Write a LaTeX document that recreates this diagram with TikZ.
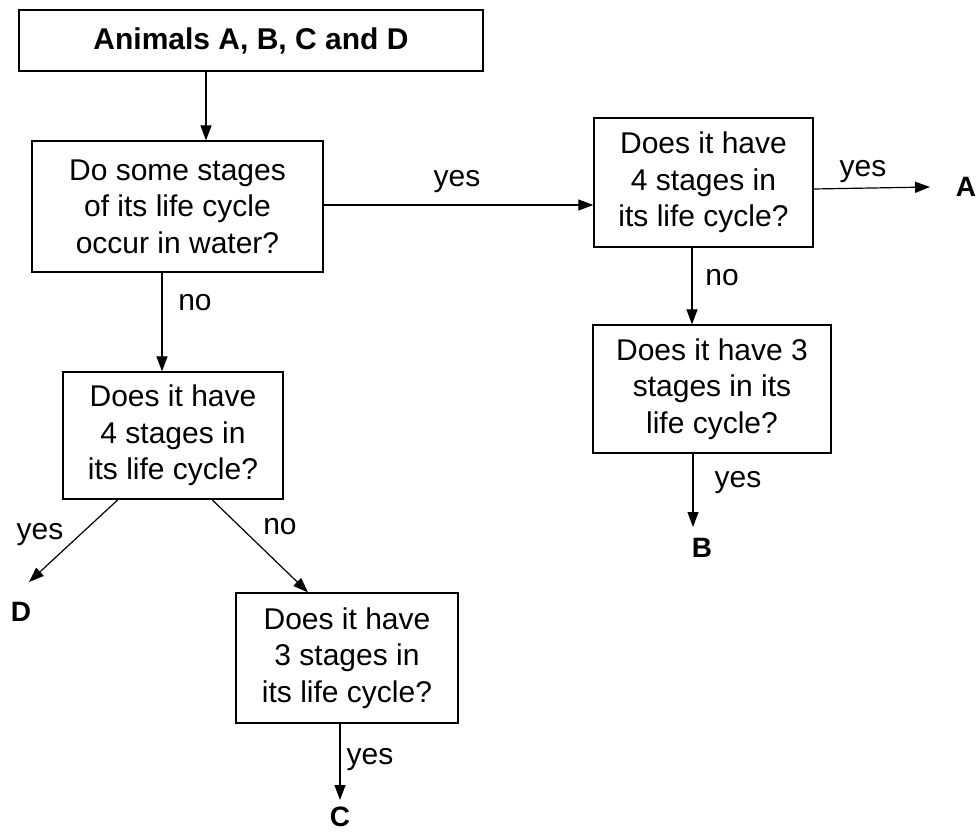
\documentclass[tikz,border=0pt]{standalone}
\usepackage{fontspec}
\setmainfont{Liberation Sans}
\usetikzlibrary{arrows.meta}
\begin{document}
\begin{tikzpicture}[x=1pt,y=-1pt,
  box/.style={draw, line width=1.3pt, inner sep=0pt, align=center, font=\fontsize{30}{36.5}\selectfont},
  lbl/.style={inner sep=0pt, font=\fontsize{30}{36}\selectfont},
  term/.style={inner sep=0pt, font=\bfseries\fontsize{28}{30}\selectfont},
  arr/.style={line width=1.2pt, -{Triangle[length=15pt,width=11pt]}}]
\useasboundingbox (0,0) rectangle (980,834);
% boxes
\node[box, minimum width=464pt, minimum height=61pt, font=\bfseries\fontsize{30}{36}\selectfont] (top) at (251,40.5) {Animals A, B, C and D};
\node[box, minimum width=291pt, minimum height=131pt] (q1) at (177.5,206.5) {Do some stages\\of its life cycle\\occur in water?};
\node[box, minimum width=219pt, minimum height=129pt] (qA) at (703.5,182.5) {Does it have\\4 stages in\\its life cycle?};
\node[box, minimum width=238pt, minimum height=128pt] (qB) at (712,389) {Does it have 3\\stages in its\\life cycle?};
\node[box, minimum width=220pt, minimum height=127pt] (qD) at (173,435.5) {Does it have\\4 stages in\\its life cycle?};
\node[box, minimum width=222pt, minimum height=130pt] (qC) at (347,658) {Does it have\\3 stages in\\its life cycle?};
% end letters
\node[term] (A) at (966,187) {A};
\node[term] (B) at (702,548) {B};
\node[term] (C) at (340,817) {C};
\node[term] (D) at (21,612) {D};
\coordinate (dtip) at (29,582);
% connectors
\draw[arr] (206,0 |- top.south) -- (206,0 |- q1.north);
\draw[arr] (q1.east |- 0,205) -- (qA.west |- 0,205);
\draw[arr] (qA.east |- 0,189) -- (930,0 |- A.west);
\draw[arr] (692,0 |- qA.south) -- (692,0 |- qB.north);
\draw[arr] (693,0 |- qB.south) -- (693,527);
\draw[arr] (162,0 |- q1.south) -- (162,0 |- qD.north);
\draw[arr] (118,0 |- qD.south) -- (dtip);
\draw[arr] (212,0 |- qD.south) -- (308,0 |- qC.north);
\draw[arr] (340,0 |- qC.south) -- (340,800);
% labels
\node[lbl] (l1) at (457,182) {yes};
\node[lbl] (l2) at (863,172) {yes};
\node[lbl] (l3) at (722,278) {no};
\node[lbl] (l4) at (738,483) {yes};
\node[lbl] (l5) at (195,303) {no};
\node[lbl] (l6) at (40,535) {yes};
\node[lbl] (l7) at (280,527) {no};
\node[lbl] (l8) at (370,760) {yes};
\end{tikzpicture}
\end{document}
